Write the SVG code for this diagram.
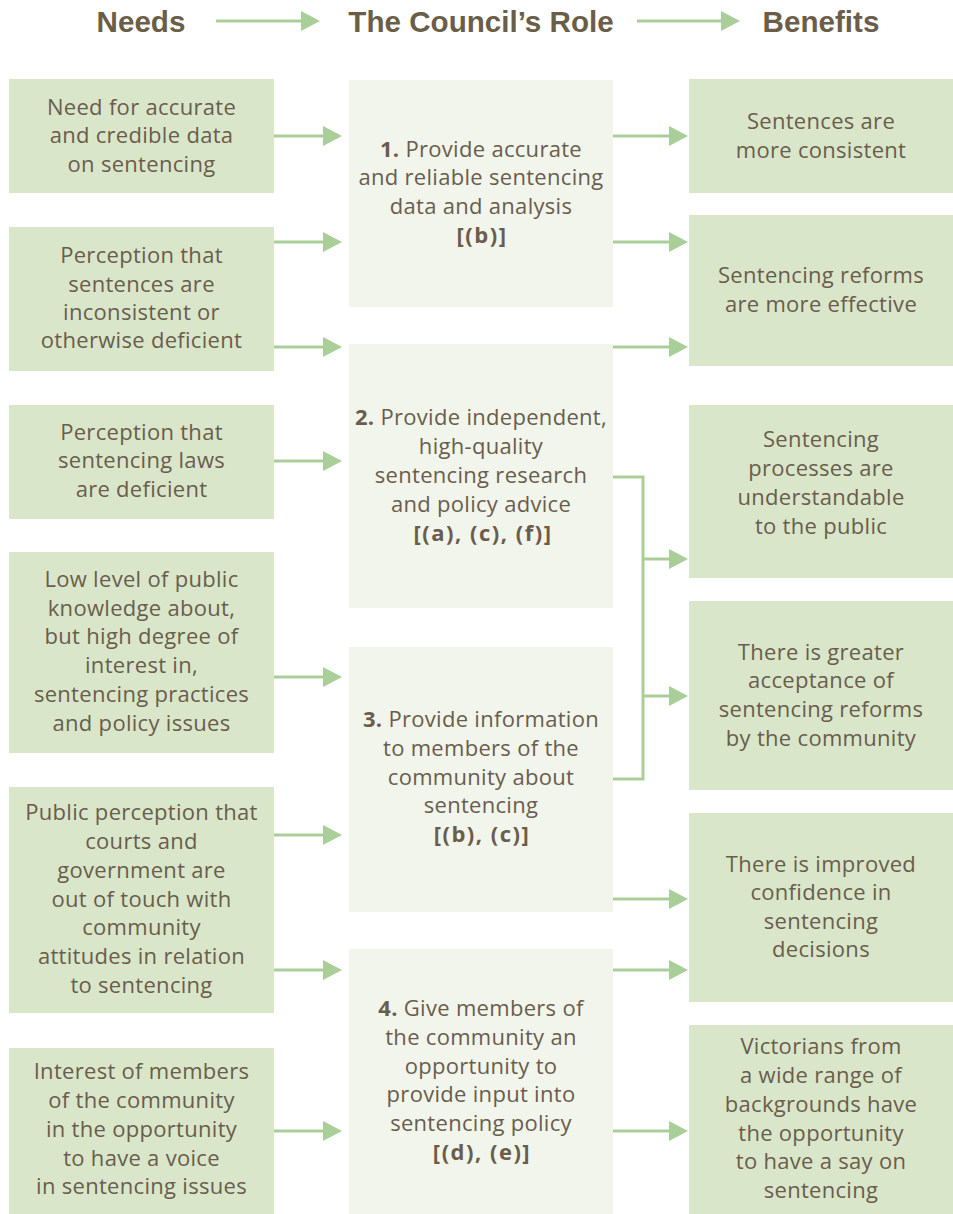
<svg xmlns="http://www.w3.org/2000/svg" width="953" height="1214" viewBox="0 0 953 1214">
<style>
.hd{font-family:"Liberation Sans",Arial,sans-serif;font-weight:bold;font-size:29.6px;fill:#6b5e48;text-anchor:middle}
.outer{fill:#d9e6c9}
.mid{fill:#f1f5eb}
.t{font-family:"Open Sans","Noto Sans",sans-serif;font-size:22px;fill:#6a5d4d;text-anchor:middle;letter-spacing:0.3px}
.b{font-weight:bold}
.br{font-weight:bold;letter-spacing:1.5px}
.c{stroke:#a9ce97;stroke-width:3;fill:none}
</style>
<defs>
<marker id="ah" markerUnits="userSpaceOnUse" markerWidth="19" markerHeight="20" viewBox="0 0 19 20" refX="0" refY="10" orient="auto">
<path d="M0,0 L19,10 L0,20 z" fill="#a9ce97"/>
</marker>
</defs>
<g id="header">
<text class="hd" x="141" y="32">Needs</text>
<text class="hd" x="481" y="32">The Council’s Role</text>
<text class="hd" x="821" y="32">Benefits</text>
</g>
<g id="connectors">
<line class="c" x1="216" y1="21" x2="301" y2="21" marker-end="url(#ah)"/>
<line class="c" x1="637" y1="21" x2="721" y2="21" marker-end="url(#ah)"/>
<line class="c" x1="274" y1="136" x2="323" y2="136" marker-end="url(#ah)"/>
<line class="c" x1="274" y1="242" x2="323" y2="242" marker-end="url(#ah)"/>
<line class="c" x1="274" y1="347" x2="323" y2="347" marker-end="url(#ah)"/>
<line class="c" x1="274" y1="461" x2="323" y2="461" marker-end="url(#ah)"/>
<line class="c" x1="274" y1="677" x2="323" y2="677" marker-end="url(#ah)"/>
<line class="c" x1="274" y1="835" x2="323" y2="835" marker-end="url(#ah)"/>
<line class="c" x1="274" y1="970" x2="323" y2="970" marker-end="url(#ah)"/>
<line class="c" x1="274" y1="1131" x2="323" y2="1131" marker-end="url(#ah)"/>
<line class="c" x1="613" y1="136" x2="669" y2="136" marker-end="url(#ah)"/>
<line class="c" x1="613" y1="242" x2="669" y2="242" marker-end="url(#ah)"/>
<line class="c" x1="613" y1="347" x2="669" y2="347" marker-end="url(#ah)"/>
<path class="c" d="M613,477 H643 V779 H613"/>
<line class="c" x1="643" y1="559" x2="669" y2="559" marker-end="url(#ah)"/>
<line class="c" x1="643" y1="696" x2="669" y2="696" marker-end="url(#ah)"/>
<line class="c" x1="613" y1="899" x2="669" y2="899" marker-end="url(#ah)"/>
<line class="c" x1="613" y1="970" x2="669" y2="970" marker-end="url(#ah)"/>
<line class="c" x1="613" y1="1131" x2="669" y2="1131" marker-end="url(#ah)"/>
</g>
<g id="need1"><rect class="outer" x="9" y="79" width="265" height="114"/>
<text class="t"><tspan x="141.5" y="115">Need for accurate</tspan><tspan x="141.5" y="143">and credible data</tspan><tspan x="141.5" y="172">on sentencing</tspan></text></g>
<g id="need2"><rect class="outer" x="9" y="227" width="265" height="144"/>
<text class="t"><tspan x="141.5" y="263">Perception that</tspan><tspan x="141.5" y="292">sentences are</tspan><tspan x="141.5" y="320">inconsistent or</tspan><tspan x="141.5" y="348">otherwise deficient</tspan></text></g>
<g id="need3"><rect class="outer" x="9" y="405" width="265" height="114"/>
<text class="t"><tspan x="141.5" y="440">Perception that</tspan><tspan x="141.5" y="468">sentencing laws</tspan><tspan x="141.5" y="497">are deficient</tspan></text></g>
<g id="need4"><rect class="outer" x="9" y="552" width="265" height="201"/>
<text class="t"><tspan x="141.5" y="587">Low level of public</tspan><tspan x="141.5" y="616">knowledge about,</tspan><tspan x="141.5" y="644">but high degree of</tspan><tspan x="141.5" y="673">interest in,</tspan><tspan x="141.5" y="702">sentencing practices</tspan><tspan x="141.5" y="731">and policy issues</tspan></text></g>
<g id="need5"><rect class="outer" x="9" y="787" width="265" height="226"/>
<text class="t"><tspan x="141.5" y="820">Public perception that</tspan><tspan x="141.5" y="849">courts and</tspan><tspan x="141.5" y="878">government are</tspan><tspan x="141.5" y="907">out of touch with</tspan><tspan x="141.5" y="935">community</tspan><tspan x="141.5" y="964">attitudes in relation</tspan><tspan x="141.5" y="993">to sentencing</tspan></text></g>
<g id="need6"><rect class="outer" x="9" y="1048" width="265" height="166"/>
<text class="t"><tspan x="141.5" y="1079">Interest of members</tspan><tspan x="141.5" y="1108">of the community</tspan><tspan x="141.5" y="1137">in the opportunity</tspan><tspan x="141.5" y="1166">to have a voice</tspan><tspan x="141.5" y="1194">in sentencing issues</tspan></text></g>
<g id="role1"><rect class="mid" x="349" y="80" width="264" height="227"/>
<text class="t"><tspan x="481" y="157"><tspan class="b">1.</tspan> Provide accurate</tspan><tspan x="481" y="185">and reliable sentencing</tspan><tspan x="481" y="214">data and analysis</tspan><tspan x="482" y="243" class="br">[(b)]</tspan></text></g>
<g id="role2"><rect class="mid" x="349" y="344" width="264" height="264"/>
<text class="t"><tspan x="481" y="425"><tspan class="b">2.</tspan> Provide independent,</tspan><tspan x="481" y="454">high-quality</tspan><tspan x="481" y="483">sentencing research</tspan><tspan x="481" y="512">and policy advice</tspan><tspan x="483" y="541" class="br">[(a), (c), (f)]</tspan></text></g>
<g id="role3"><rect class="mid" x="349" y="647" width="264" height="265"/>
<text class="t"><tspan x="481" y="727"><tspan class="b">3.</tspan> Provide information</tspan><tspan x="481" y="756">to members of the</tspan><tspan x="481" y="785">community about</tspan><tspan x="481" y="813">sentencing</tspan><tspan x="482" y="842" class="br">[(b), (c)]</tspan></text></g>
<g id="role4"><rect class="mid" x="349" y="949" width="264" height="265"/>
<text class="t"><tspan x="481" y="1016"><tspan class="b">4.</tspan> Give members of</tspan><tspan x="481" y="1045">the community an</tspan><tspan x="481" y="1074">opportunity to</tspan><tspan x="481" y="1102">provide input into</tspan><tspan x="481" y="1131">sentencing policy</tspan><tspan x="482" y="1160" class="br">[(d), (e)]</tspan></text></g>
<g id="benefit1"><rect class="outer" x="689" y="79" width="264" height="114"/>
<text class="t"><tspan x="821" y="129">Sentences are</tspan><tspan x="821" y="158">more consistent</tspan></text></g>
<g id="benefit2"><rect class="outer" x="689" y="215" width="264" height="151"/>
<text class="t"><tspan x="821" y="283">Sentencing reforms</tspan><tspan x="821" y="312">are more effective</tspan></text></g>
<g id="benefit3"><rect class="outer" x="689" y="405" width="264" height="173"/>
<text class="t"><tspan x="821" y="447">Sentencing</tspan><tspan x="821" y="476">processes are</tspan><tspan x="821" y="505">understandable</tspan><tspan x="821" y="534">to the public</tspan></text></g>
<g id="benefit4"><rect class="outer" x="689" y="601" width="264" height="189"/>
<text class="t"><tspan x="821" y="660">There is greater</tspan><tspan x="821" y="688">acceptance of</tspan><tspan x="821" y="717">sentencing reforms</tspan><tspan x="821" y="746">by the community</tspan></text></g>
<g id="benefit5"><rect class="outer" x="689" y="813" width="264" height="189"/>
<text class="t"><tspan x="821" y="872">There is improved</tspan><tspan x="821" y="900">confidence in</tspan><tspan x="821" y="929">sentencing</tspan><tspan x="821" y="957">decisions</tspan></text></g>
<g id="benefit6"><rect class="outer" x="689" y="1025" width="264" height="189"/>
<text class="t"><tspan x="821" y="1054">Victorians from</tspan><tspan x="821" y="1083">a wide range of</tspan><tspan x="821" y="1112">backgrounds have</tspan><tspan x="821" y="1141">the opportunity</tspan><tspan x="821" y="1169">to have a say on</tspan><tspan x="821" y="1198">sentencing</tspan></text></g>
</svg>
